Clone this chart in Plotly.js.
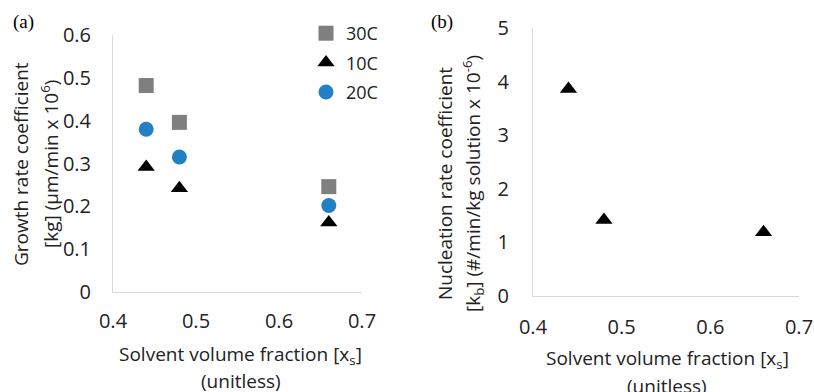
<!DOCTYPE html>
<html>
<head>
<meta charset="utf-8">
<script src="https://cdn.plot.ly/plotly-3.0.1.min.js"></script>
<style>html,body{margin:0;padding:0;background:#fff}#chart{width:814px;height:392px}</style>
</head>
<body>
<div id="chart"></div>
<script>
// Panel (a): growth rate coefficient
const solventFraction = [0.44, 0.48, 0.66];
const kg30C = [0.482, 0.396, 0.246];
const kg10C = [0.292, 0.242, 0.162];
const kg20C = [0.380, 0.315, 0.202];
// Panel (b): nucleation rate coefficient
const kb = [3.86, 1.42, 1.19];

const xTicks = [0.4, 0.5, 0.6, 0.7];
const yTicksA = [0, 0.1, 0.2, 0.3, 0.4, 0.5, 0.6];
const yTicksB = [0, 1, 2, 3, 4, 5];

const FONT = '"Open Sans", sans-serif';
const tickFont = {family: FONT, size: 20, color: '#222'};

const data = [
  {x: solventFraction, y: kg30C, name: '30C', mode: 'markers', type: 'scatter',
   marker: {symbol: 'square', size: 15, color: '#7f7f7f'}, xaxis: 'x', yaxis: 'y', legendgroup: 'a'},
  {x: solventFraction, y: kg10C, name: '10C', mode: 'markers', type: 'scatter',
   marker: {symbol: 'triangle-up', size: 15, color: '#000'}, xaxis: 'x', yaxis: 'y', legendgroup: 'b'},
  {x: solventFraction, y: kg20C, name: '20C', mode: 'markers', type: 'scatter',
   marker: {symbol: 'circle', size: 15, color: '#2280c3'}, xaxis: 'x', yaxis: 'y', legendgroup: 'c'},
  {x: solventFraction, y: kb, name: 'kb', mode: 'markers', type: 'scatter', showlegend: false,
   marker: {symbol: 'triangle-up', size: 15, color: '#000'}, xaxis: 'x2', yaxis: 'y2'}
];

function xAxis(domain, anchor, tl) {
  return {domain: domain, anchor: anchor, range: [0.4, 0.7], tickvals: xTicks,
    ticktext: xTicks.map(v => v.toFixed(1)), showgrid: false, zeroline: false,
    showline: true, linecolor: '#d9d9d9', linewidth: 1,
    ticks: 'outside', ticklen: tl, tickcolor: 'rgba(0,0,0,0)', tickfont: tickFont, fixedrange: true};
}
function yAxis(domain, anchor, range, vals, fmt, tl) {
  return {domain: domain, anchor: anchor, range: range, tickvals: vals,
    ticktext: vals.map(fmt), showgrid: false, zeroline: false,
    showline: true, linecolor: '#d9d9d9', linewidth: 1,
    ticks: 'outside', ticklen: tl, tickcolor: 'rgba(0,0,0,0)', tickfont: tickFont, fixedrange: true};
}

const titleFont = {family: FONT, size: 19, color: '#222'};
function ann(text, px, py, angle, font) {
  return {text: text, x: px/814, y: 1 - py/392, xref: 'paper', yref: 'paper', showarrow: false,
    xanchor: 'center', yanchor: 'middle', textangle: angle || 0, font: font || titleFont};
}
const serif = {family: '"Liberation Serif", serif', size: 19, color: '#000'};
const layout = {
  width: 814, height: 392,
  margin: {l: 0, r: 0, t: 0, b: 0},
  paper_bgcolor: '#fff', plot_bgcolor: '#fff',
  showlegend: true,
  legend: {x: 306/814, y: 1 - 15/392, xanchor: 'left', yanchor: 'top', font: {family: FONT, size: 18, color: '#222'},
    bgcolor: 'rgba(0,0,0,0)', tracegroupgap: 3, traceorder: 'grouped'},
  xaxis: xAxis([113/814, 362/814], 'y', 11),
  yaxis: yAxis([100/392, 357/392], 'x', [0, 0.6], yTicksA, v => v === 0 ? '0' : v.toFixed(1), 17),
  xaxis2: xAxis([533/814, 799/814], 'y2', 13),
  yaxis2: yAxis([96/392, 364/392], 'x2', [0, 5], yTicksB, v => String(v), 19),
  annotations: [
    ann('(a)', 23, 22, 0, serif),
    ann('(b)', 442, 22, 0, serif),
    ann('Growth rate coefficient', 21, 164, -90),
    ann('[kg] (μm/min x 10<sup>6</sup>)', 50, 164, -90),
    ann('Nucleation rate coefficient', 445, 184, -90),
    ann('[k<sub>b</sub>] (#/min/kg solution x 10<sup>-6</sup>)', 473, 183, -90),
    ann('Solvent volume fraction [x<sub>s</sub>]', 241, 355),
    ann('(unitless)', 241, 381),
    ann('Solvent volume fraction [x<sub>s</sub>]', 667, 359),
    ann('(unitless)', 667, 386)
  ]
};

Plotly.newPlot('chart', data, layout, {displayModeBar: false, staticPlot: true});
</script>
</body>
</html>
